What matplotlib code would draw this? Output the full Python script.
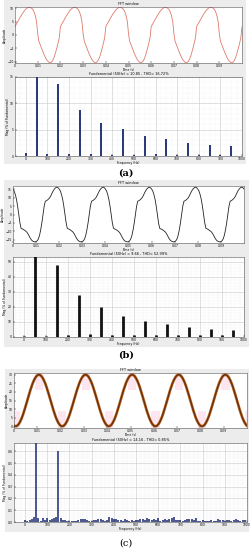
#
# FFT analysis figure: three cases (a), (b), (c)
#

import numpy as np
import matplotlib
matplotlib.use('Agg')
import matplotlib.pyplot as plt
from matplotlib.patches import Rectangle
from matplotlib.ticker import MultipleLocator

# ---- data ----
DT = 0.0005  # sample step of the typed cycles (s)
N_CYCLES = 5

# one 50 Hz cycle of each waveform, per unit of peak
cycle_a = [0.30, 0.38, 0.45, 0.52, 0.60, 0.67, 0.74, 0.80, 0.86, 0.91,
           0.95, 0.98, 1.00, 1.00, 0.98, 0.95, 0.90, 0.81, 0.68, 0.48,
           0.05, -0.22, -0.33, -0.44, -0.55, -0.65, -0.74, -0.83, -0.90, -0.95,
           -0.99, -1.00, -0.98, -0.93, -0.85, -0.74, -0.60, -0.45, -0.28, -0.10]
cycle_b = [0.92, 0.85, 0.72, 0.55, 0.30, 0.00, -0.30, -0.50, -0.52, -0.54,
           -0.57, -0.60, -0.64, -0.70, -0.78, -0.86, -0.92, -0.96, -0.98, -0.99,
           -0.98, -0.95, -0.88, -0.75, -0.55, -0.30, 0.00, 0.30, 0.48, 0.50,
           0.53, 0.57, 0.62, 0.70, 0.79, 0.87, 0.93, 0.97, 0.99, 0.97]
cycle_c = [0.012, 0.001, 0.002, 0.016, 0.041, 0.078, 0.125, 0.181, 0.245, 0.316,
           0.391, 0.469, 0.547, 0.624, 0.699, 0.768, 0.831, 0.885, 0.930, 0.965,
           0.988, 0.999, 0.998, 0.984, 0.959, 0.922, 0.875, 0.819, 0.755, 0.684,
           0.609, 0.531, 0.453, 0.376, 0.301, 0.232, 0.169, 0.115, 0.070, 0.035]
peak_a = 10.4
peak_b = 16.5
peak_c = 30.0

# harmonic spectra (% of fundamental), fundamental clipped by the axes
freq_ab = [0, 50, 100, 150, 200, 250, 300, 350, 400, 450,
           500, 550, 600, 650, 700, 750, 800, 850, 900, 950]
mag_a = [0.5, 100, 0.38, 13.6, 0.45, 8.7, 0.3, 6.3, 0.25, 5.1,
         0.2, 3.8, 0.3, 3.2, 0.25, 2.4, 0.1, 2.1, 0.1, 1.9]
mag_b = [0.8, 100, 0.8, 47.5, 1.0, 27.8, 2.0, 19.7, 1.5, 14.2,
         1.5, 10.7, 1.0, 8.8, 1.0, 6.8, 1.2, 5.5, 1.2, 4.6]
freq_c = list(range(0, 1000, 10))
mag_c = [0.015, 0.010, 0.020, 0.025, 0.045, 100, 0.035, 0.010, 0.030, 0.020,
         0.035, 0.015, 0.025, 0.030, 0.045, 0.60, 0.030, 0.020, 0.015, 0.010,
         0.008, 0.012, 0.010, 0.008, 0.015, 0.025, 0.028, 0.025, 0.020, 0.012,
         0.010, 0.015, 0.020, 0.025, 0.022, 0.018, 0.012, 0.020, 0.045, 0.030,
         0.028, 0.025, 0.015, 0.020, 0.012, 0.025, 0.018, 0.010, 0.015, 0.012,
         0.020, 0.015, 0.022, 0.025, 0.020, 0.030, 0.028, 0.015, 0.025, 0.020,
         0.030, 0.010, 0.018, 0.022, 0.015, 0.025, 0.030, 0.045, 0.020, 0.015,
         0.018, 0.012, 0.020, 0.022, 0.028, 0.025, 0.018, 0.030, 0.010, 0.012,
         0.015, 0.008, 0.012, 0.010, 0.015, 0.008, 0.012, 0.025, 0.015, 0.020,
         0.010, 0.015, 0.020, 0.012, 0.018, 0.022, 0.015, 0.010, 0.020, 0.015]

titles = ['Fundamental (50Hz) = 10.85 , THD= 16.72%',
          'Fundamental (50Hz) = 9.66 , THD= 52.99%',
          'Fundamental (50Hz) = 14.16 , THD= 0.85%']

FS = 2.2
GRAY = '#ececec'


def style_axes(ax):
    ax.tick_params(direction='in', length=1.5, width=0.3, labelsize=FS, pad=0.8)
    for s in ax.spines.values():
        s.set_linewidth(0.4)
        s.set_color('#555555')


def wave(cycle, peak):
    vals = np.append(np.tile(cycle, N_CYCLES), cycle[0]) * peak
    t = np.arange(len(vals)) * DT
    return t, vals


def top_plot(ax, t, y, color, lw, ylim, ystep):
    ax.plot(t, y, color=color, lw=lw)
    ax.set_xlim(0, 0.1)
    ax.set_ylim(*ylim)
    ax.set_xticks(np.arange(0, 0.1, 0.01))
    ax.set_xticklabels(['0'] + ['%.2f' % v for v in np.arange(0.01, 0.095, 0.01)])
    ax.yaxis.set_major_locator(MultipleLocator(ystep))
    ax.set_title('FFT window', fontsize=FS + 0.3, pad=1.2)
    ax.set_xlabel('Time (s)', fontsize=FS, labelpad=0.2)
    ax.set_ylabel('Amplitude', fontsize=FS, labelpad=0.3)
    style_axes(ax)


def bar_plot(ax, freq, mag, color, lw, ylim, ystep, yminor, xminor, title):
    # spectral lines drawn as stems of fixed pixel width
    ax.vlines(freq, 0, mag, colors=color, lw=lw, zorder=3)
    ax.set_xlim(-50, 1000)
    ax.set_ylim(*ylim)
    ax.xaxis.set_major_locator(MultipleLocator(100))
    ax.xaxis.set_minor_locator(MultipleLocator(xminor))
    ax.yaxis.set_major_locator(MultipleLocator(ystep))
    ax.yaxis.set_minor_locator(MultipleLocator(yminor))
    ax.grid(True, which='major', color='#c8c8c8', lw=0.4, zorder=0)
    ax.grid(True, which='minor', color='#e2e2e2', lw=0.3, ls=':', zorder=0)
    ax.tick_params(which='minor', length=0)
    ax.set_title(title, fontsize=FS + 0.3, pad=1.2)
    ax.set_xlabel('Frequency (Hz)', fontsize=FS, labelpad=0.2)
    ax.set_ylabel('Mag (% of Fundamental)', fontsize=FS, labelpad=0.3)
    style_axes(ax)


W, H = 252, 550
fig = plt.figure(figsize=(W / 100, H / 100), dpi=100)
fig.patch.set_facecolor('white')


def panel(x0, y0, x1, y1):
    r = Rectangle((x0 / W, 1 - y1 / H), (x1 - x0) / W, (y1 - y0) / H,
                  transform=fig.transFigure, facecolor=GRAY,
                  edgecolor='none', zorder=-10)
    fig.add_artist(r)


def axes_px(x0, y0, x1, y1):
    return fig.add_axes([x0 / W, 1 - y1 / H, (x1 - x0) / W, (y1 - y0) / H])


panel(4, 0, 246, 164)
panel(4, 180, 249, 347)
panel(5, 369, 249, 532)

# (a)
ax = axes_px(15, 7, 242, 63)
t, y = wave(cycle_a, peak_a)
top_plot(ax, t, y, '#e07a6c', 0.6, (-10.5, 10.5), 5)
ax = axes_px(15, 77, 242, 156)
bar_plot(ax, freq_ab, mag_a, '#2c3a7c', 1.45, (0, 15), 5, 1, 25, titles[0])
fig.text(126 / W, 1 - 173 / H, '(a)', ha='center', va='center',
         fontsize=7, fontweight='bold', family='DejaVu Serif')

# (b)
ax = axes_px(13, 186, 244, 243)
t, y = wave(cycle_b, peak_b)
top_plot(ax, t, y, '#222222', 0.6, (-17, 17), 5)
ax = axes_px(13, 257, 244, 337)
bar_plot(ax, freq_ab, mag_b, '#111111', 2.0, (0, 53), 10, 2, 20, titles[1])
fig.text(126 / W, 1 - 355 / H, '(b)', ha='center', va='center',
         fontsize=7, fontweight='bold', family='DejaVu Serif')

# (c)
ax = axes_px(14, 373, 247, 428)
t, y = wave(cycle_c, peak_c)
ax.fill_between(t, 0.7 * peak_c, 31, where=y > 0.9 * peak_c,
                color='#fde6ef', lw=0, zorder=0)
ax.fill_between(t, -1, 0.3 * peak_c, where=y < 0.1 * peak_c,
                color='#fde6ef', lw=0, zorder=0)
ax.plot(t, y, color='#c8742e', lw=2.0, zorder=2)
top_plot(ax, t, y, '#6b3210', 1.1, (-1, 31), 5)
ax = axes_px(14, 443, 247, 522)
bar_plot(ax, freq_c, mag_c, '#2c3a7c', 1.2, (0, 0.67), 0.1, 0.02, 20, titles[2])
fig.text(126 / W, 1 - 543 / H, '(c)', ha='center', va='center',
         fontsize=7, family='DejaVu Serif')

fig.savefig('out.png', dpi=100, facecolor=fig.get_facecolor())
